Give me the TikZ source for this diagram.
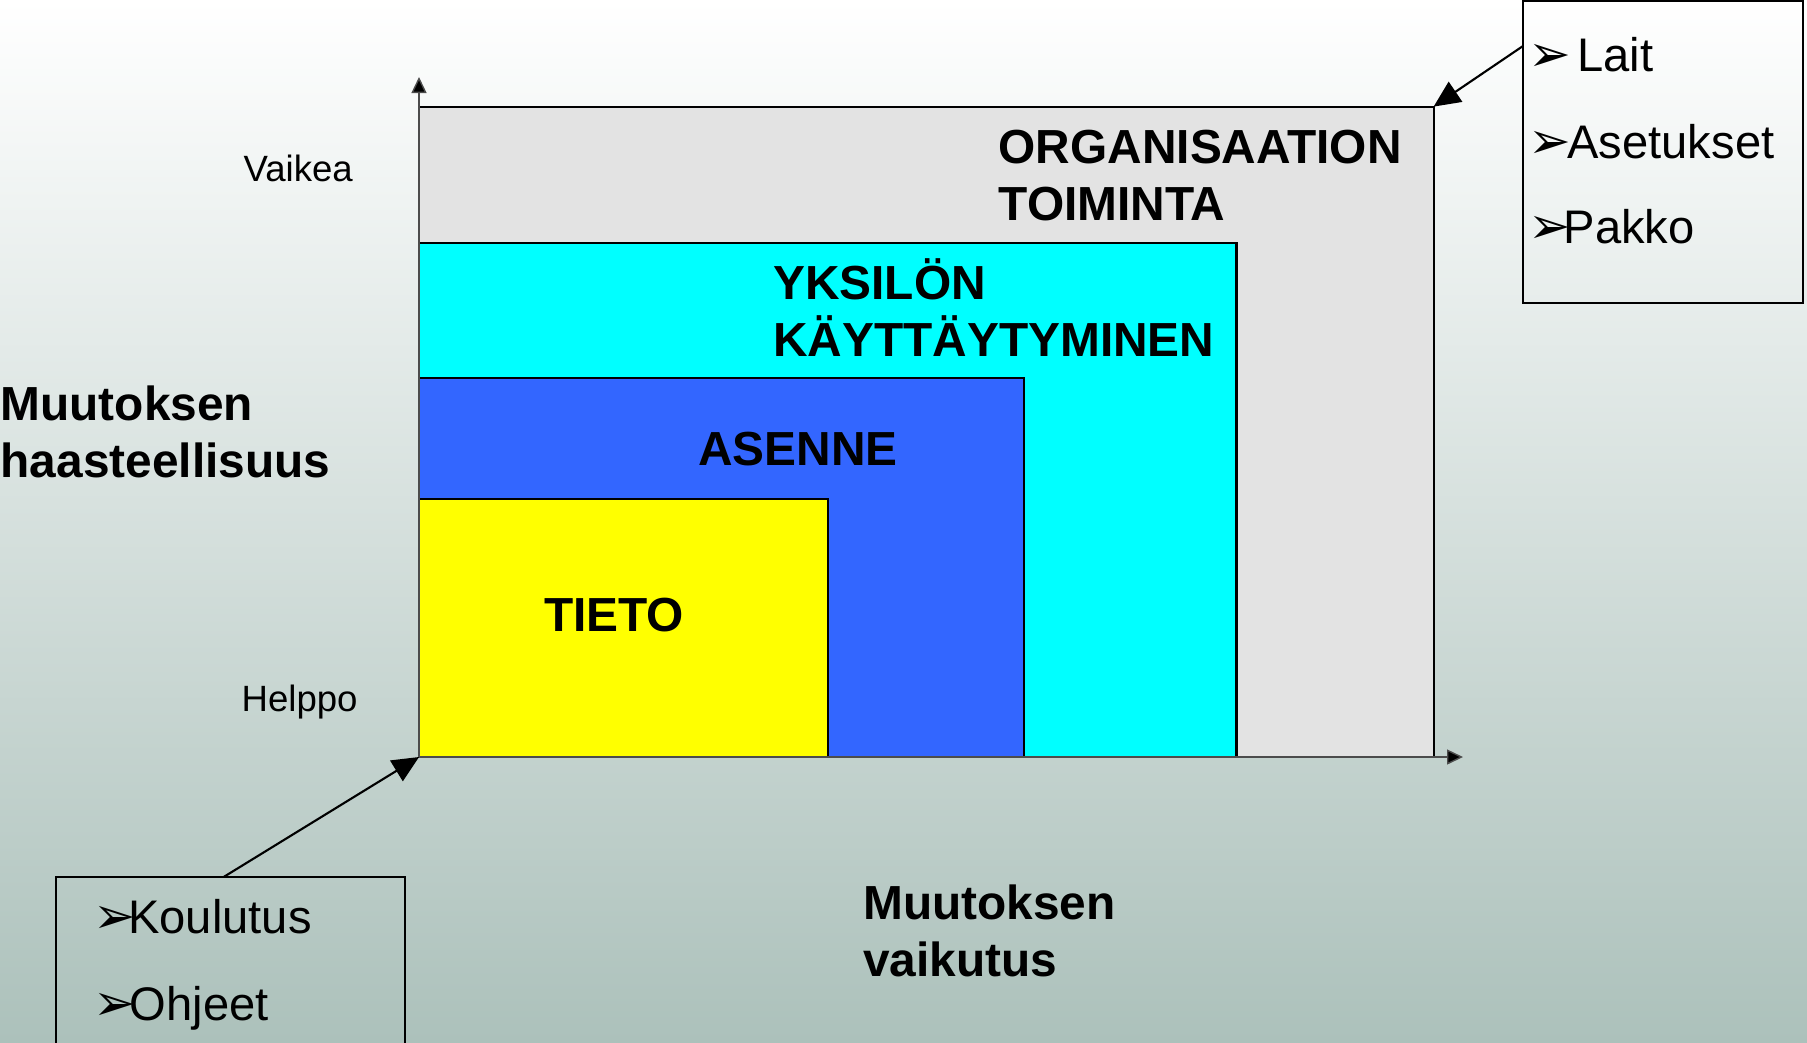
\documentclass[tikz,border=0pt]{standalone}
\usepackage{fontspec}
\setmainfont{Liberation Sans}
\newfontfamily\arrowfont{DejaVu Sans}
\usetikzlibrary{arrows.meta,calc,positioning}

\definecolor{bgtop}{RGB}{255,255,255}
\definecolor{bgbottom}{RGB}{172,193,187}
\definecolor{orggrey}{RGB}{227,227,227}
\definecolor{indcyan}{RGB}{0,255,255}
\definecolor{attblue}{RGB}{51,102,255}
\definecolor{knowyellow}{RGB}{255,255,0}

\begin{document}
\begin{tikzpicture}[x=0.01cm,y=-0.01cm]

\tikzstyle{level}=[draw=black,line width=0.6pt,inner sep=0pt,outer sep=0pt,anchor=south west]
\tikzstyle{biglabel}=[inner sep=0pt,anchor=base west,align=left,font=\fontsize{13.6}{16.33}\selectfont\bfseries]
\tikzstyle{scalelabel}=[inner sep=0pt,anchor=base west,font=\fontsize{10.4}{12.5}\selectfont]
\tikzstyle{listbox}=[draw=black,line width=0.6pt,inner sep=0pt,outer sep=0pt,anchor=north west]
\tikzstyle{item}=[inner sep=0pt,anchor=base west,font=\fontsize{13.4}{16}\selectfont]
\tikzstyle{bullet}=[inner sep=0pt,anchor=base west,font=\arrowfont\fontsize{14.5}{17}\selectfont]
\tikzstyle{pointer}=[line width=0.6pt,-{Triangle[length=2.65mm,width=2.4mm]}]
\tikzstyle{axis}=[line width=0.4pt,draw=black!70,-{Triangle[length=1.6mm,width=1.5mm,fill=black]}]

\clip (0,0) rectangle (1807,1042);
\shade[top color=bgtop,bottom color=bgbottom] (0,0) rectangle (1807,1042);

% nested levels
\node (org) [level,fill=orggrey,minimum width=10.14cm,minimum height=6.5cm] at (419,757) {};
\node (ind) [level,fill=indcyan,minimum width=8.17cm,minimum height=5.14cm] at (419,757) {};
\node (att) [level,fill=attblue,minimum width=6.05cm,minimum height=3.79cm] at (419,757) {};
\node (know) [level,fill=knowyellow,minimum width=4.085cm,minimum height=2.58cm] at (419,757) {};

% base of a two-line label is its last line
\node (org_text) [biglabel] at (998,220.7) {ORGANISAATION\\TOIMINTA};
\node (ind_text) [biglabel] at (772.5,356.7) {YKSILÖN\\KÄYTTÄYTYMINEN};
\node (att_text) [biglabel] at (697.6,465.7) {ASENNE};
\node (know_text) [biglabel] at (543.5,631.7) {TIETO};

% axes
\coordinate (ytip) at (419,77);
\coordinate (xtip) at (1463,757);
\draw [axis] (org.south west) -- (ytip);
\draw [axis] (org.south west) -- (xtip);

\node (hard) [scalelabel] at (243,181.7) {Vaikea};
\node (easy) [scalelabel] at (241,711.7) {Helppo};
\node (challenge) [biglabel] at (0,477.7) {Muutoksen\\haasteellisuus};
\node (impact) [biglabel] at (862.5,976.7) {Muutoksen\\vaikutus};

% list boxes
\node (lawbox) [listbox,minimum width=2.8cm,minimum height=3.02cm] at (1523,1) {};
\node (b_lait) [bullet] at (1528,71.7) {➢};
\node (lait) [item] at (1576.5,71.7) {Lait};
\node (b_aset) [bullet] at (1528,158.3) {➢};
\node (aset) [item] at (1566.7,158.3) {Asetukset};
\node (b_pakko) [bullet] at (1528,243.3) {➢};
\node (pakko) [item] at (1563,243.3) {Pakko};

\node (trainbox) [listbox,minimum width=3.49cm,minimum height=2.2cm] at (56,877) {};
\node (b_koul) [bullet] at (92.5,933.3) {➢};
\node (koul) [item] at (127.5,933.3) {Koulutus};
\node (b_ohj) [bullet] at (92.5,1020.7) {➢};
\node (ohj) [item] at (129,1020.7) {Ohjeet};

\draw [pointer] ($(lawbox.north west)+(0,45)$) -- (org.north east);
\draw [pointer] ($(trainbox.north)+(-7,0)$) -- (org.south west);

\end{tikzpicture}
\end{document}
